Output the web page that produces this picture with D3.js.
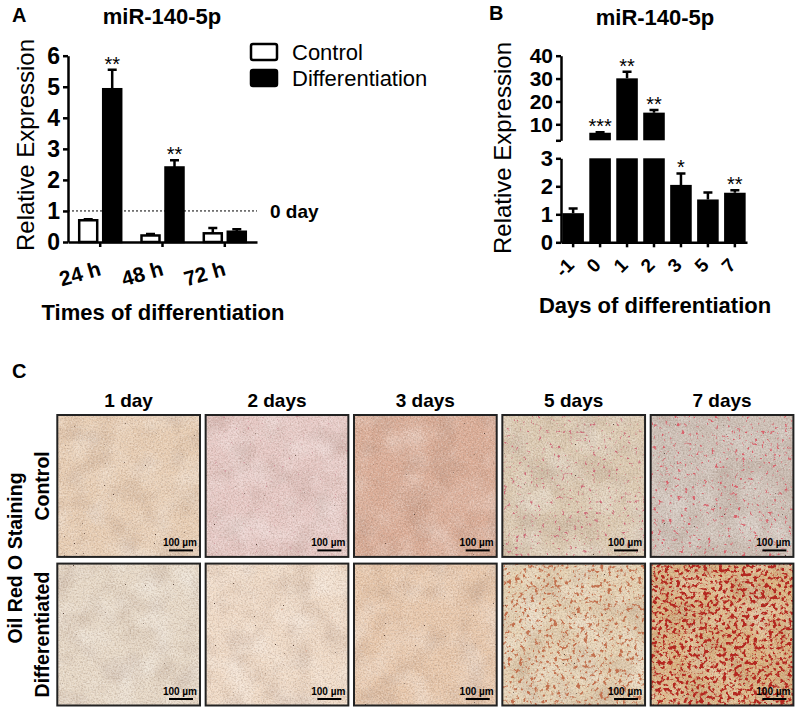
<!DOCTYPE html>
<html>
<head>
<meta charset="utf-8">
<script src="https://cdn.jsdelivr.net/npm/d3@7"></script>
<style>
body { margin: 0; background: #fff; }
svg { display: block; font-family: Arial, "Liberation Sans", sans-serif; }
</style>
</head>
<body>
<svg id="fig" width="803" height="711"></svg>
<script>
// panel A - time course
var timePoints = ["24 h", "48 h", "72 h"];
var groupsA = ["Control", "Differentiation"];
var controlMean = [0.70, 0.21, 0.28];
var controlErr = [0.03, 0.05, 0.17];
var diffMean = [4.92, 2.40, 0.33];
var diffErr = [0.63, 0.23, 0.08];
var starsA = ["**", "**", ""];
var ticksA = [0, 1, 2, 3, 4, 5, 6];
var refLevel = 1;

// panel B - days, broken y axis
var daysB = ["-1", "0", "1", "2", "3", "5", "7"];
var meanB = [1.04, 6.3, 30.1, 15.1, 2.05, 1.53, 1.77];
var errB = [0.17, 0.25, 2.9, 1.1, 0.41, 0.25, 0.09];
var starsB = ["", "***", "**", "**", "*", "", "**"];
var lowTicksB = [0, 1, 2, 3];
var highTicksB = [3, 10, 20, 30, 40];

// panel C - oil red O wells
var stainDays = ["1 day", "2 days", "3 days", "5 days", "7 days"];
var stainRows = ["Control", "Differentiated"];
var wellTint = [["#e9cfb5", "#e8cac6", "#dcae98", "#ddcbb2", "#cfc2b8"],
                ["#e8dac8", "#f1dcc8", "#e9c9ad", "#e6d2b2", "#dcb480"]];
var redTint = [["#b59a86", "#c98a94", "#c99080", "#cc6a78", "#d8606a"],
               ["#b9a08a", "#d08a70", "#c9957a", "#c2704e", "#b42820"]];
var redCover = [[0, 0.02, 0.01, 0.1, 0.14],
                [0, 0.01, 0.01, 0.3, 0.5]];

var svg = d3.select("#fig");
svg.append("rect").attr("width", 803).attr("height", 711).attr("fill", "#fff");
var defs = svg.append("defs");

function styleAxis(sel, size) {
  sel.selectAll("path, line").attr("stroke", "#000").attr("stroke-width", 2.5);
  sel.selectAll("text").attr("font-size", size).attr("font-weight", "bold").attr("fill", "#000");
}

// ---------- A ----------
var gA = svg.append("g");
var yA = d3.scaleLinear().domain([0, 6]).range([242, 55.7]);
var x0 = d3.scaleBand().domain(timePoints).range([68, 257]).paddingInner(0.2).paddingOuter(0.117);
var x1 = d3.scaleBand().domain(groupsA)
  .range([x0.bandwidth() / 2 - 21, x0.bandwidth() / 2 + 21]).paddingInner(0.25);

var barsA = [];
timePoints.forEach(function(t, i) {
  barsA.push({t: t, g: "Control", m: controlMean[i], e: controlErr[i], s: ""});
  barsA.push({t: t, g: "Differentiation", m: diffMean[i], e: diffErr[i], s: starsA[i]});
});

gA.selectAll(".errA").data(barsA).enter().append("path")
  .attr("d", function(d) {
    var cx = x0(d.t) + x1(d.g) + x1.bandwidth() / 2;
    return "M" + cx + "," + yA(d.m) + "V" + yA(d.m + d.e) + "M" + (cx - 4.5) + "," + yA(d.m + d.e) + "H" + (cx + 4.5);
  })
  .attr("stroke", "#000").attr("stroke-width", 2.5).attr("fill", "none");

gA.selectAll(".barA").data(barsA).enter().append("rect")
  .attr("x", function(d) { return x0(d.t) + x1(d.g); })
  .attr("y", function(d) { return yA(d.m); })
  .attr("width", x1.bandwidth())
  .attr("height", function(d) { return yA(0) - yA(d.m); })
  .attr("fill", function(d) { return d.g == "Control" ? "#fff" : "#000"; })
  .attr("stroke", "#000").attr("stroke-width", 2.5);

gA.selectAll(".starA").data(barsA).enter().append("text")
  .attr("x", function(d) { return x0(d.t) + x1(d.g) + x1.bandwidth() / 2; })
  .attr("y", function(d) { return yA(d.m + d.e) + 1; })
  .attr("text-anchor", "middle").attr("font-size", 20)
  .text(function(d) { return d.s; });

gA.append("line")
  .attr("x1", 68).attr("x2", 257).attr("y1", yA(refLevel)).attr("y2", yA(refLevel))
  .attr("stroke", "#000").attr("stroke-width", 1).attr("stroke-dasharray", "2,2");
gA.append("text").attr("x", 270).attr("y", yA(refLevel) + 7)
  .attr("font-size", 19).attr("font-weight", "bold").text("0 day");

var yAxisA = gA.append("g").attr("transform", "translate(68,0)")
  .call(d3.axisLeft(yA).tickValues(ticksA).tickFormat(d3.format("d"))
    .tickSize(5).tickSizeOuter(0).tickPadding(3));
styleAxis(yAxisA, 23);

var xAxisA = gA.append("g").attr("transform", "translate(0,242)")
  .call(d3.axisBottom(x0).tickSize(5).tickSizeOuter(0));
styleAxis(xAxisA, 21);
xAxisA.selectAll("text").attr("x", 0).attr("y", 0).attr("dy", 0)
  .attr("text-anchor", "end").attr("transform", "translate(2,33) rotate(-16)");

gA.append("text").attr("x", 12).attr("y", 22).attr("font-size", 20).attr("font-weight", "bold").text("A");
gA.append("text").attr("x", 162).attr("y", 24).attr("text-anchor", "middle")
  .attr("font-size", 22).attr("font-weight", "bold").text("miR-140-5p");
gA.append("text").attr("transform", "translate(34,145) rotate(-90)").attr("text-anchor", "middle")
  .attr("font-size", 24).text("Relative Expression");
gA.append("text").attr("x", 163).attr("y", 320).attr("text-anchor", "middle")
  .attr("font-size", 22).attr("font-weight", "bold").text("Times of differentiation");

var legA = gA.selectAll(".legA").data(groupsA).enter().append("g")
  .attr("transform", function(d, i) { return "translate(251," + (44 + i * 26) + ")"; });
legA.append("rect").attr("width", 26).attr("height", 16).attr("rx", 2)
  .attr("fill", function(d) { return d == "Control" ? "#fff" : "#000"; })
  .attr("stroke", "#000").attr("stroke-width", 2.5);
legA.append("text").attr("x", 41).attr("y", 16).attr("font-size", 22).text(function(d) { return d; });

// ---------- B ----------
var gB = svg.append("g");
var yLow = d3.scaleLinear().domain([0, 3]).range([242.3, 158.3]);
var yHigh = d3.scaleLinear().domain([3, 40]).range([140.3, 55.7]);
var xB = d3.scaleBand().domain(daysB).range([561, 747]).paddingInner(0.2).paddingOuter(0.05);

var barsB = daysB.map(function(d, i) { return {d: d, m: meanB[i], e: errB[i], s: starsB[i]}; });
function yTop(v) { return v > 3 ? yHigh(v) : yLow(v); }

gB.selectAll(".errB").data(barsB).enter().append("path")
  .attr("d", function(d) {
    var cx = xB(d.d) + xB.bandwidth() / 2;
    return "M" + cx + "," + yTop(d.m) + "V" + yTop(d.m + d.e) + "M" + (cx - 4.5) + "," + yTop(d.m + d.e) + "H" + (cx + 4.5);
  })
  .attr("stroke", "#000").attr("stroke-width", 2.5).attr("fill", "none");

gB.selectAll(".lowB").data(barsB).enter().append("rect")
  .attr("x", function(d) { return xB(d.d); })
  .attr("y", function(d) { return yLow(Math.min(d.m, 3)); })
  .attr("width", xB.bandwidth())
  .attr("height", function(d) { return yLow(0) - yLow(Math.min(d.m, 3)); })
  .attr("fill", "#000");

gB.selectAll(".highB").data(barsB.filter(function(d) { return d.m > 3; })).enter().append("rect")
  .attr("x", function(d) { return xB(d.d); })
  .attr("y", function(d) { return yHigh(d.m); })
  .attr("width", xB.bandwidth())
  .attr("height", function(d) { return yHigh(3) - yHigh(d.m); })
  .attr("fill", "#000");

gB.selectAll(".starB").data(barsB).enter().append("text")
  .attr("x", function(d) { return xB(d.d) + xB.bandwidth() / 2; })
  .attr("y", function(d) { return yTop(d.m + d.e) + 1; })
  .attr("text-anchor", "middle").attr("font-size", 20)
  .text(function(d) { return d.s; });

var lowAxis = gB.append("g").attr("transform", "translate(561,0)")
  .call(d3.axisLeft(yLow).tickValues(lowTicksB).tickFormat(d3.format("d"))
    .tickSize(5).tickSizeOuter(0).tickPadding(3));
styleAxis(lowAxis, 22);
var highAxis = gB.append("g").attr("transform", "translate(561,0)")
  .call(d3.axisLeft(yHigh).tickValues(highTicksB).tickSize(5).tickSizeOuter(0).tickPadding(3)
    .tickFormat(function(d) { return d == 3 ? "" : d3.format("d")(d); }));
styleAxis(highAxis, 21);

var xAxisB = gB.append("g").attr("transform", "translate(0,242.3)")
  .call(d3.axisBottom(xB).tickSize(5).tickSizeOuter(0));
styleAxis(xAxisB, 19);
xAxisB.selectAll("text").attr("x", 0).attr("y", 0).attr("dy", 0)
  .attr("text-anchor", "end").attr("transform", "translate(2,24) rotate(-45)");

gB.append("text").attr("x", 489).attr("y", 20).attr("font-size", 20).attr("font-weight", "bold").text("B");
gB.append("text").attr("x", 655).attr("y", 25).attr("text-anchor", "middle")
  .attr("font-size", 22).attr("font-weight", "bold").text("miR-140-5p");
gB.append("text").attr("transform", "translate(511,148) rotate(-90)").attr("text-anchor", "middle")
  .attr("font-size", 24).text("Relative Expression");
gB.append("text").attr("x", 655).attr("y", 313).attr("text-anchor", "middle")
  .attr("font-size", 22).attr("font-weight", "bold").text("Days of differentiation");

// ---------- C ----------
var gC = svg.append("g");
var colX = d3.scaleBand().domain(stainDays).range([57.3, 793.4]).paddingInner(0.038);
var rowY = d3.scaleBand().domain(stainRows).range([415, 705.5]).paddingInner(0.045);
var coverToThr = d3.scaleLinear().domain([0, 0.02, 0.1, 0.3, 0.5]).range([0.95, 0.76, 0.66, 0.57, 0.51]);

function spotFilter(id, freq, oct, seed, color, slope, thr) {
  var c = d3.rgb(color);
  var f = defs.append("filter").attr("id", id)
    .attr("x", 0).attr("y", 0).attr("width", 1).attr("height", 1)
    .attr("color-interpolation-filters", "sRGB");
  f.append("feTurbulence").attr("type", "fractalNoise").attr("baseFrequency", freq)
    .attr("numOctaves", oct).attr("seed", seed);
  f.append("feColorMatrix").attr("type", "matrix").attr("values",
    [0, 0, 0, 0, c.r / 255, 0, 0, 0, 0, c.g / 255, 0, 0, 0, 0, c.b / 255, slope, 0, 0, 0, -slope * thr].join(" "));
  return "url(#" + id + ")";
}

stainRows.forEach(function(r, i) {
  stainDays.forEach(function(day, j) {
    var px = colX(day), py = rowY(r), w = colX.bandwidth(), h = rowY.bandwidth();
    var k = i * 5 + j;
    var well = gC.append("g");
    function layer(filt) {
      well.append("rect").attr("x", px).attr("y", py).attr("width", w).attr("height", h)
        .attr("fill", "#000").attr("filter", filt);
    }
    well.append("rect").attr("x", px).attr("y", py).attr("width", w).attr("height", h).attr("fill", wellTint[i][j]);
    layer(spotFilter("mot" + k, 0.035, 2, 3 + k, "#ffffff", 0.7, 0.42));
    layer(spotFilter("dmo" + k, 0.035, 2, 90 + k, "#8a6a5a", 0.5, 0.45));
    layer(spotFilter("grn" + k, 0.6, 2, 20 + k, "#6a5040", 0.6, 0.42));
    layer(spotFilter("lgr" + k, 0.6, 2, 120 + k, "#ffffff", 0.8, 0.45));
    layer(spotFilter("red" + k, 0.26, 3, 40 + k, redTint[i][j], 7, coverToThr(redCover[i][j])));
    layer(spotFilter("dot" + k, 0.9, 1, 60 + k, "#5e4a40", 25, 0.78));
    well.append("rect").attr("x", px).attr("y", py).attr("width", w).attr("height", h)
      .attr("fill", "none").attr("stroke", "#222").attr("stroke-width", 2);
    well.append("text").attr("x", px + w - 3).attr("y", py + h - 10.5).attr("text-anchor", "end")
      .attr("font-size", 10).attr("font-weight", "bold").text("100 µm");
    well.append("line").attr("x1", px + w - 31).attr("x2", px + w - 7)
      .attr("y1", py + h - 6.5).attr("y2", py + h - 6.5).attr("stroke", "#000").attr("stroke-width", 2);
  });
});

gC.selectAll(".dayLab").data(stainDays).enter().append("text")
  .attr("x", function(d) { return colX(d) + colX.bandwidth() / 2; })
  .attr("y", 407).attr("text-anchor", "middle")
  .attr("font-size", 19).attr("font-weight", "bold").text(function(d) { return d; });

gC.selectAll(".rowLab").data(stainRows).enter().append("text")
  .attr("transform", function(d) { return "translate(49," + (rowY(d) + rowY.bandwidth() / 2) + ") rotate(-90)"; })
  .attr("text-anchor", "middle")
  .attr("font-size", 19.5).attr("font-weight", "bold").text(function(d) { return d; });

gC.append("text").attr("transform", "translate(22,558) rotate(-90)").attr("text-anchor", "middle")
  .attr("font-size", 19.5).attr("font-weight", "bold").text("Oil Red O Staining");
gC.append("text").attr("x", 12).attr("y", 378).attr("font-size", 20).attr("font-weight", "bold").text("C");
</script>
</body>
</html>
